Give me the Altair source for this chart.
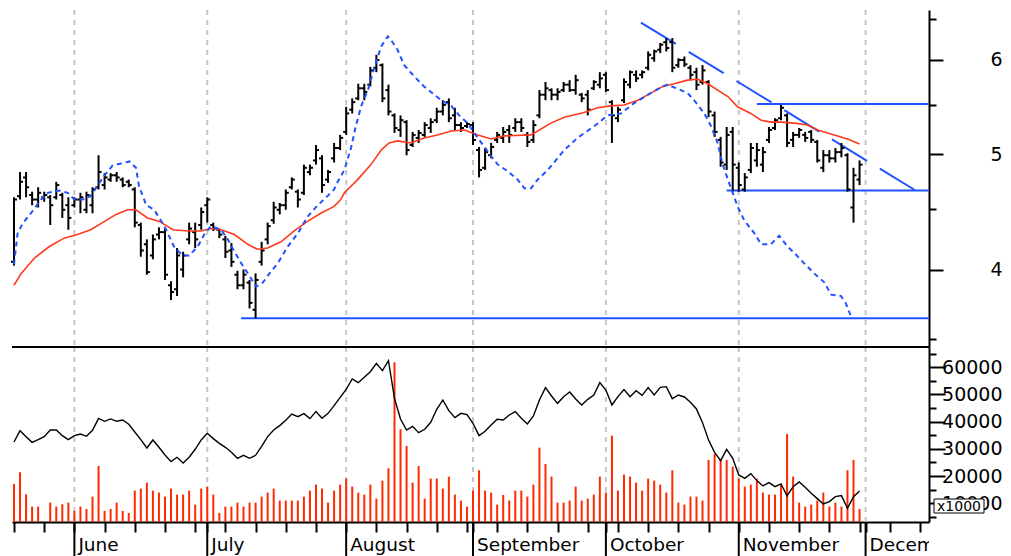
import altair as alt
import pandas as pd

# ---------------- data ----------------
high = [4.60, 4.83, 4.83, 4.65, 4.69, 4.65, 4.62, 4.74, 4.64, 4.60,
        4.60, 4.64, 4.65, 4.69, 4.99, 4.82, 4.82, 4.83, 4.78, 4.76,
        4.69, 4.38, 4.24, 4.28, 4.34, 4.33, 3.91, 4.17, 4.14, 4.38,
        4.38, 4.51, 4.60, 4.38, 4.33, 4.27, 4.21, 3.99, 4.00, 3.92,
        3.97, 4.22, 4.38, 4.56, 4.55, 4.67, 4.78, 4.67, 4.90, 4.90,
        5.09, 4.99, 4.85, 5.11, 5.19, 5.48, 5.57, 5.73, 5.73, 5.92,
        6.06, 5.96, 5.72, 5.41, 5.39, 5.34, 5.22, 5.24, 5.32, 5.36,
        5.47, 5.55, 5.57, 5.47, 5.32, 5.32, 5.32, 5.07, 5.06, 5.11,
        5.22, 5.27, 5.29, 5.36, 5.36, 5.22, 5.34, 5.66, 5.75, 5.68,
        5.68, 5.75, 5.77, 5.83, 5.63, 5.66, 5.77, 5.86, 5.86, 5.55,
        5.48, 5.79, 5.88, 5.88, 5.88, 6.10, 6.12, 6.20, 6.26, 6.26,
        6.02, 6.04, 5.94, 5.91, 5.94, 5.77, 5.43, 5.17, 5.27, 5.27,
        4.92, 4.82, 5.11, 5.11, 5.07, 5.27, 5.36, 5.50, 5.41, 5.22,
        5.26, 5.22, 5.24, 5.14, 5.04, 5.04, 5.06, 5.11, 5.01, 4.87, 4.94]
low = [4.03, 4.58, 4.60, 4.53, 4.51, 4.56, 4.36, 4.58, 4.42, 4.32,
       4.51, 4.46, 4.46, 4.46, 4.67, 4.67, 4.74, 4.74, 4.69, 4.69,
       4.34, 4.10, 3.96, 4.08, 4.24, 3.92, 3.77, 3.80, 3.94, 4.20,
       4.17, 4.32, 4.38, 4.31, 4.25, 4.09, 4.02, 3.85, 3.85, 3.71,
       3.64, 4.03, 4.20, 4.37, 4.45, 4.49, 4.67, 4.51, 4.62, 4.80,
       4.90, 4.64, 4.73, 4.92, 5.04, 5.19, 5.41, 5.55, 5.55, 5.70,
       5.86, 5.53, 5.39, 5.21, 5.17, 4.99, 5.07, 5.11, 5.17, 5.21,
       5.31, 5.39, 5.32, 5.24, 5.22, 5.26, 5.09, 4.78, 4.85, 4.96,
       5.11, 5.11, 5.11, 5.22, 5.22, 5.07, 5.11, 5.36, 5.55, 5.55,
       5.55, 5.64, 5.64, 5.61, 5.53, 5.39, 5.66, 5.68, 5.64, 5.11,
       5.32, 5.52, 5.68, 5.75, 5.79, 5.88, 5.98, 6.08, 6.10, 5.86,
       5.91, 5.92, 5.77, 5.66, 5.72, 5.37, 5.17, 4.88, 4.85, 4.65,
       4.65, 4.65, 4.82, 4.88, 4.83, 5.11, 5.24, 5.34, 5.07, 5.07,
       5.16, 5.12, 5.11, 4.92, 4.83, 4.92, 4.92, 4.97, 4.65, 4.38, 4.71]
open_ = [4.06, 4.61, 4.78, 4.62, 4.58, 4.60, 4.60, 4.60, 4.62, 4.53,
         4.53, 4.58, 4.49, 4.53, 4.69, 4.71, 4.76, 4.80, 4.76, 4.74,
         4.67, 4.36, 4.20, 4.11, 4.28, 4.30, 3.88, 3.85, 4.00, 4.24,
         4.30, 4.36, 4.53, 4.36, 4.32, 4.24, 4.15, 3.96, 3.88, 3.90,
         3.70, 4.06, 4.24, 4.40, 4.49, 4.53, 4.69, 4.65, 4.64, 4.83,
         4.94, 4.96, 4.76, 4.96, 5.06, 5.22, 5.45, 5.57, 5.68, 5.72,
         5.91, 5.94, 5.66, 5.39, 5.24, 5.32, 5.09, 5.16, 5.19, 5.26,
         5.34, 5.43, 5.53, 5.39, 5.29, 5.28, 5.29, 5.04, 4.87, 4.99,
         5.14, 5.16, 5.24, 5.26, 5.32, 5.19, 5.14, 5.39, 5.61, 5.66,
         5.61, 5.66, 5.72, 5.66, 5.61, 5.61, 5.68, 5.72, 5.83, 5.53,
         5.36, 5.55, 5.72, 5.83, 5.83, 5.91, 6.02, 6.12, 6.21, 6.21,
         5.94, 6.00, 5.91, 5.86, 5.75, 5.75, 5.39, 5.14, 4.90, 5.22,
         4.87, 4.67, 4.85, 4.94, 4.90, 5.14, 5.26, 5.36, 5.39, 5.14,
         5.19, 5.19, 5.22, 5.12, 4.87, 4.99, 4.96, 5.02, 4.99, 4.51, 4.76]
close = [4.58, 4.74, 4.69, 4.58, 4.64, 4.62, 4.53, 4.71, 4.49, 4.42,
         4.58, 4.60, 4.62, 4.67, 4.83, 4.78, 4.80, 4.78, 4.71, 4.71,
         4.38, 4.15, 3.98, 4.24, 4.30, 3.96, 3.83, 4.11, 4.11, 4.33,
         4.24, 4.47, 4.58, 4.33, 4.28, 4.14, 4.06, 3.88, 3.96, 3.75,
         3.92, 4.15, 4.35, 4.51, 4.53, 4.64, 4.76, 4.58, 4.87, 4.87,
         5.04, 4.71, 4.83, 5.06, 5.16, 5.41, 5.53, 5.68, 5.64, 5.88,
         6.00, 5.57, 5.43, 5.26, 5.34, 5.04, 5.19, 5.21, 5.29, 5.32,
         5.43, 5.50, 5.36, 5.29, 5.26, 5.30, 5.14, 4.85, 5.02, 5.07,
         5.19, 5.22, 5.19, 5.32, 5.26, 5.12, 5.29, 5.61, 5.68, 5.61,
         5.64, 5.72, 5.66, 5.77, 5.57, 5.45, 5.75, 5.79, 5.66, 5.39,
         5.45, 5.75, 5.86, 5.79, 5.86, 6.06, 6.10, 6.18, 6.14, 5.91,
         6.00, 5.95, 5.83, 5.72, 5.88, 5.43, 5.22, 4.92, 5.19, 4.90,
         4.71, 4.78, 5.06, 5.04, 5.02, 5.24, 5.34, 5.47, 5.11, 5.19,
         5.24, 5.16, 5.14, 4.94, 4.99, 4.96, 5.02, 5.06, 4.67, 4.80, 4.90]
volume = [17100, 21400, 13300, 8760, 8760, 3200, 10230, 8760, 9620, 10230,
          7170, 8760, 7900, 12440, 23710, 7170, 7900, 10230, 7170, 6430,
          14640, 15380, 17590, 14640, 13910, 12440, 15380, 13170, 13170, 14640,
          9500, 15380, 16120, 13170, 6430, 8760, 8760, 10230, 8760, 10230,
          10230, 12440, 13910, 15380, 10970, 10970, 10970, 10970, 12440, 14640,
          16850, 15380, 10230, 14640, 16850, 19060, 16120, 13910, 13170, 16850,
          11700, 18320, 22850, 61830, 37190, 31070, 17590, 23710, 11700, 19060,
          19060, 15380, 19790, 13170, 10970, 8760, 14640, 22120, 14640, 13910,
          9500, 13050, 10970, 14640, 14640, 12440, 16850, 30450, 24450, 19790,
          10230, 10230, 10970, 16120, 10970, 11700, 13170, 19790, 13910, 34870,
          14640, 20530, 19790, 17590, 14640, 19060, 18320, 16850, 13910, 22120,
          10230, 9500, 12440, 12440, 10970, 25920, 28120, 25920, 25920, 23470,
          19060, 16120, 16850, 19060, 13910, 13170, 13170, 17000, 35480, 19790,
          10230, 8760, 9500, 10970, 13910, 8760, 10230, 8760, 22120, 25920, 7900]
flow = [32520, 36690, 34480, 32400, 33380, 34480, 36930, 36930, 34850, 33380,
        34850, 35460, 34610, 36810, 41220, 40120, 40980, 40120, 40610, 39020,
        36200, 33380, 30320, 33260, 30560, 27750, 25300, 26890, 24810, 26890,
        29830, 33260, 35710, 33750, 32030, 30560, 28730, 26520, 27620, 26520,
        27620, 30930, 34480, 36930, 38530, 40490, 42810, 41830, 42940, 41100,
        43670, 41220, 43060, 45880, 48940, 51880, 55680, 54330, 56290, 58370,
        61430, 58740, 62410, 48570, 40980, 36930, 38280, 35950, 37180, 39750,
        44530, 47960, 44040, 41470, 43060, 42570, 39380, 34850, 36440, 38770,
        40850, 40610, 42450, 43670, 41220, 39140, 42080, 47960, 52490, 49430,
        46730, 49180, 50900, 48330, 46120, 48200, 49800, 54330, 51630, 46120,
        49180, 51760, 49180, 51390, 49670, 52490, 49800, 52610, 52860, 48450,
        49800, 49060, 47100, 44650, 39630, 33260, 28730, 25660, 29830, 26520,
        20400, 19170, 20890, 18310, 16350, 17580, 16110, 17090, 12680, 16110,
        17820, 15860, 13660, 11700, 9740, 10600, 12430, 12800, 8150, 12430, 14520]

ma_idx = [0, 1.2, 3.4, 5.8, 8.3, 10.5, 12.7, 15, 16.9, 18.8, 20.2, 22.1, 24.1, 26.3,
          28.8, 31, 32.6, 34.3, 36.5, 38.7, 40.3, 42, 44.2, 46.4, 48.6, 50.8, 53,
          54.1, 54.7, 56.9, 59.1, 60.8, 62.1, 63.5, 65.7, 67.9, 70.1, 72.4, 74.6,
          76.8, 79, 81.2, 85.6, 86.7, 88.9, 91.1, 94.4, 96.6, 98.8, 101, 103.3,
          105.5, 107.4, 109.3, 111.5, 113.2, 114.9, 116.5, 118.2, 119.8, 122,
          123.7, 125.3, 127, 129.2, 131.4, 133.1, 135.8, 138, 140]
ma_val = [3.88, 3.97, 4.09, 4.18, 4.25, 4.28, 4.32, 4.39, 4.45, 4.49, 4.49, 4.42, 4.39, 4.32,
          4.31, 4.31, 4.33, 4.32, 4.28, 4.20, 4.16, 4.17, 4.22, 4.31, 4.39, 4.46, 4.52,
          4.58, 4.64, 4.76, 4.90, 5.04, 5.11, 5.13, 5.11, 5.16, 5.19, 5.23, 5.24,
          5.19, 5.15, 5.18, 5.19, 5.23, 5.31, 5.37, 5.42, 5.47, 5.49, 5.50, 5.55,
          5.63, 5.70, 5.73, 5.77, 5.78, 5.73, 5.66, 5.59, 5.48, 5.41,
          5.34, 5.32, 5.32, 5.31, 5.29, 5.24, 5.19, 5.15, 5.10]

proj_idx = [0, 0.6, 1.4, 2.8, 4.5, 5.6, 7.5, 8.9, 10, 11.4, 12.7, 13.9, 15, 16.3, 17.7,
            19.1, 20.2, 20.7, 21.9, 23.2, 24.3, 25.2, 26.5, 27.9, 29, 30.4, 31.5, 32.6,
            34.3, 35.4, 36.5, 37.6, 39, 40.1, 41.2, 42.3, 43.7, 45.3, 47, 48.6, 50.3,
            51.9, 53, 53.6, 54.7, 55.8, 56.6, 57.5, 58.6, 59.7, 60.8, 61.9, 62.4, 63.5,
            64.6, 66.3, 67.9, 69.6, 70.7, 72.4, 73.7, 75.1, 76.2, 77.9, 79, 80.1, 81.7,
            83.4, 84.5, 85.6, 86.7, 88.4, 91.1, 93.3, 96.1, 98.3, 100.5, 102.7, 105.5,
            107.1, 108.2, 110.4, 111.5, 112.6, 114.3, 115.4, 116.5, 117.3, 118.2, 119,
            119.8, 120.9, 122.6, 123.7, 125.3, 126.7, 128.1, 129.2, 130.8, 132.5, 134.2,
            135.3, 136.9, 137.7, 138.6]
proj_val = [4.04, 4.29, 4.37, 4.46, 4.58, 4.64, 4.66, 4.64, 4.58, 4.58, 4.61, 4.71, 4.80, 4.89, 4.91,
            4.93, 4.87, 4.70, 4.53, 4.49, 4.40, 4.32, 4.18, 4.11, 4.11, 4.18, 4.28, 4.35,
            4.32, 4.24, 4.14, 4.05, 3.95, 3.87, 3.90, 3.97, 4.05, 4.18, 4.29, 4.43, 4.53,
            4.61, 4.67, 4.74, 4.85, 5.06, 5.28, 5.49, 5.66, 5.92, 6.16, 6.28, 6.24, 6.12,
            5.94, 5.81, 5.70, 5.61, 5.55, 5.49, 5.39, 5.31, 5.21, 5.07, 4.98, 4.90, 4.84,
            4.76, 4.68, 4.68, 4.76, 4.85, 5.04, 5.16, 5.28, 5.39, 5.41, 5.52, 5.63,
            5.69, 5.72, 5.66, 5.63, 5.55, 5.41, 5.28, 5.11, 4.91, 4.76, 4.64,
            4.52, 4.40, 4.29, 4.20, 4.20, 4.27, 4.18, 4.13, 4.05, 3.97, 3.90,
            3.81, 3.80, 3.75, 3.65]

support_start = [37.6, 118.0, 123.0]
support_level = [3.64, 4.66, 5.51]
trend_idx = [103.8, 149.3]
trend_val = [6.45, 4.66]

month_names = ["June", "July", "August", "September", "October", "November", "December"]
month_start = [10, 32, 55, 76, 98, 120, 141]
week_ticks = list(range(0, 151, 5))
price_ticks = [3.5, 4, 4.5, 5, 5.5, 6, 6.5]
volume_ticks = list(range(5000, 65001, 5000))

# ---------------- layout ----------------
X_DOMAIN = [-0.33, 151.5]
P_DOMAIN = [3.443, 6.609]
V_DOMAIN = [3100, 67440]
W, H1, H2, H3 = 917, 337, 175, 34
FONT = "DejaVu Sans"
BLUE = "#2152ff"
RED = "#ff3a1c"

n = len(high)
bars = pd.DataFrame({"idx": list(range(n)), "open": open_, "high": high, "low": low,
                     "close": close, "volume": volume, "flow": flow})
ma = pd.DataFrame({"idx": ma_idx, "val": ma_val})
proj = pd.DataFrame({"idx": proj_idx, "val": proj_val})
support = pd.DataFrame({"start": support_start, "end": [X_DOMAIN[1]] * 3, "level": support_level})
trend = pd.DataFrame({"idx": trend_idx, "val": trend_val})
months = pd.DataFrame({"start": month_start, "name": month_names})
one = pd.DataFrame({"k": [1]})

xscale = alt.Scale(domain=X_DOMAIN, nice=False, zero=False)


def xq(field):
    return alt.X(field, type="quantitative", scale=xscale, axis=None, title=None)


vol_xaxis = alt.Axis(orient="bottom", values=sorted(set(week_ticks + month_start)), labels=False,
                     tickSize=10, tickColor="black", tickWidth=2, domainColor="black",
                     domainWidth=2, grid=False, title=None)


def xv(field):
    return alt.X(field, type="quantitative", scale=xscale, axis=vol_xaxis, title=None)


price_axis = alt.Axis(orient="right", values=price_ticks, grid=False, title=None,
                      labelExpr="datum.value % 1 == 0 ? format(datum.value, 'd') : ''",
                      tickSize={"condition": {"test": "datum.value % 1 == 0", "value": 14}, "value": 7},
                      tickColor="black", tickWidth=2, domainColor="black", domainWidth=2,
                      labelFont=FONT, labelFontSize=19, labelColor="black",
                      labelAlign="right", labelPadding=59)


def py(field):
    return alt.Y(field, type="quantitative",
                 scale=alt.Scale(type="log", domain=P_DOMAIN, nice=False, zero=False),
                 axis=price_axis, title=None)


vol_axis = alt.Axis(orient="right", values=volume_ticks, grid=False, title=None,
                    labelExpr="datum.value % 10000 == 0 ? format(datum.value, 'd') : ''",
                    tickSize={"condition": {"test": "datum.value % 10000 == 0", "value": 16}, "value": 7},
                    tickColor="black", tickWidth=2, domainColor="black", domainWidth=2,
                    labelFont=FONT, labelFontSize=19, labelColor="black",
                    labelAlign="right", labelPadding=57)


def vy(field):
    return alt.Y(field, type="quantitative",
                 scale=alt.Scale(domain=V_DOMAIN, nice=False, zero=False),
                 axis=vol_axis, title=None)


# ---------------- price panel ----------------
grid_p = alt.Chart(months).mark_rule(color="#c6c6c6", strokeWidth=2, strokeDash=[5, 5]).encode(x=xq("start"))
base = alt.Chart(bars)
hl = base.mark_rule(color="black", strokeWidth=2).encode(x=xq("idx"), y=py("low"), y2="high")
opn = base.transform_calculate(x0="datum.idx - 0.5").mark_rule(color="black", strokeWidth=2).encode(
    x=xq("x0"), x2="idx", y=py("open"))
cls = base.transform_calculate(x1="datum.idx + 0.5").mark_rule(color="black", strokeWidth=2).encode(
    x=xq("idx"), x2="x1", y=py("close"))
ma_line = alt.Chart(ma).mark_line(color=RED, strokeWidth=1.6).encode(x=xq("idx"), y=py("val"))
proj_line = alt.Chart(proj).mark_line(color=BLUE, strokeWidth=2, strokeDash=[5, 4]).encode(
    x=xq("idx"), y=py("val"))
sup = alt.Chart(support).mark_rule(color=BLUE, strokeWidth=2).encode(x=xq("start"), x2="end", y=py("level"))
tr = alt.Chart(trend).mark_line(color=BLUE, strokeWidth=2, strokeDash=[41, 15]).encode(
    x=xq("idx"), y=py("val"))

price = alt.layer(grid_p, sup, tr, hl, opn, cls, ma_line, proj_line).properties(width=W, height=H1)

# ---------------- volume panel ----------------
grid_v = alt.Chart(months).mark_rule(color="#c6c6c6", strokeWidth=2, strokeDash=[5, 5]).encode(x=xv("start"))
top_rule = alt.Chart(one).mark_rule(color="black", strokeWidth=2).encode(y=alt.value(0))
vbars = alt.Chart(bars).mark_rule(color="#ff2a00", strokeWidth=2).encode(
    x=xv("idx"), y=vy("volume"), y2=alt.datum(V_DOMAIN[0]))
vline = alt.Chart(bars).mark_line(color="black", strokeWidth=1.4).encode(x=xv("idx"), y=vy("flow"))
box = alt.Chart(one).mark_rect(fill="white", stroke="black", strokeWidth=1).encode(
    x=alt.value(W + 5), x2=alt.value(W + 55), y=alt.value(152), y2=alt.value(166))
box_text = alt.Chart(one).mark_text(text="x1000", font=FONT, fontSize=14, color="black",
                                    align="center", baseline="middle").encode(
    x=alt.value(W + 30), y=alt.value(159.5))

vol = alt.layer(grid_v, vbars, vline, top_rule, box, box_text).properties(width=W, height=H2)

# ---------------- month labels ----------------
mrules = alt.Chart(months).mark_rule(color="black", strokeWidth=2).encode(x=xq("start"))
mtext = alt.Chart(months).mark_text(align="left", baseline="alphabetic", dx=4, font=FONT,
                                    fontSize=18.5, color="black", clip=True).encode(
    x=xq("start"), y=alt.value(29), text="name:N")
labels = alt.layer(mrules, mtext).properties(width=W, height=H3)

chart = alt.vconcat(price, vol, labels, spacing=0, bounds="flush").resolve_scale(
    x="independent", y="independent").properties(
    padding={"left": 1, "top": 1, "right": 0, "bottom": 0}).configure_view(stroke=None)

chart.save("out.html", embed_options={"renderer": "svg", "actions": False})
